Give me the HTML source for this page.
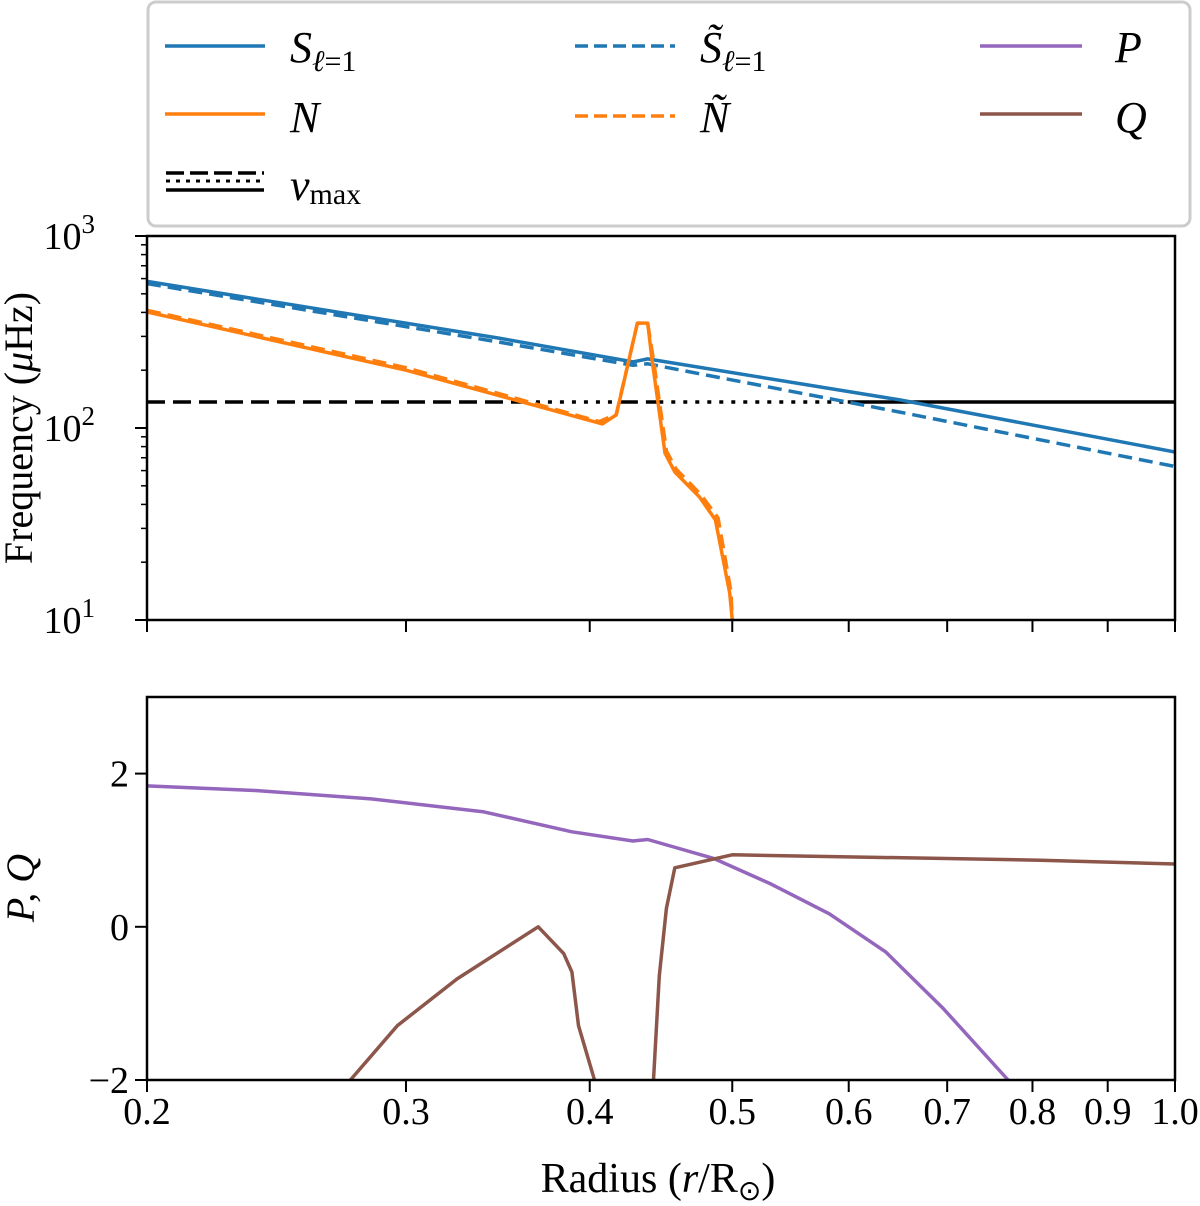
<!DOCTYPE html>
<html><head><meta charset="utf-8"><style>
body{margin:0;background:#fff}
svg{display:block;font-family:"Liberation Serif",serif}
</style></head><body>
<svg id="fig" width="1200" height="1206" xmlns="http://www.w3.org/2000/svg">
<g id="legend">
<rect x="148" y="2" width="1042" height="224" rx="8" fill="#fff" stroke="#ccc" stroke-width="3"/>
<g><line x1="165" y1="46" x2="265" y2="46" stroke="#1f77b4" stroke-width="3.5"/><text x="290" y="62" font-size="44" font-style="italic">S<tspan font-size="30" dy="9">ℓ</tspan><tspan font-size="30" font-style="normal">=1</tspan></text></g>
<g><line x1="165" y1="114" x2="265" y2="114" stroke="#ff7f0e" stroke-width="3.5"/><text x="290" y="132" font-size="44" font-style="italic">N</text></g>
<g><line x1="166" y1="173" x2="264" y2="173" stroke="#000" stroke-width="3.5" stroke-dasharray="18,6"/><line x1="166" y1="181" x2="264" y2="181" stroke="#000" stroke-width="3" stroke-dasharray="4,6"/><line x1="166" y1="190" x2="264" y2="190" stroke="#000" stroke-width="3.5"/><text x="290" y="200" font-size="44" font-style="italic">ν<tspan font-size="30" font-style="normal" dy="4">max</tspan></text></g>
<g><line x1="575" y1="46" x2="675" y2="46" stroke="#1f77b4" stroke-width="3.5" stroke-dasharray="13,6"/><text x="700" y="62" font-size="44" font-style="italic">S̃<tspan font-size="30" dy="9">ℓ</tspan><tspan font-size="30" font-style="normal">=1</tspan></text></g>
<g><line x1="575" y1="116" x2="675" y2="116" stroke="#ff7f0e" stroke-width="3.5" stroke-dasharray="13,6"/><text x="700" y="132" font-size="44" font-style="italic">Ñ</text></g>
<g><line x1="980" y1="46" x2="1082" y2="46" stroke="#9467bd" stroke-width="3.5"/><text x="1115" y="62" font-size="44" font-style="italic">P</text></g>
<g><line x1="980" y1="114" x2="1082" y2="114" stroke="#8c564b" stroke-width="3.5"/><text x="1115" y="132" font-size="44" font-style="italic">Q</text></g>
</g>
<g id="topPanel"></g>
<g id="botPanel"></g>
<text x="32" y="428" font-size="40" text-anchor="middle" transform="rotate(-90 32 428)">Frequency (<tspan font-style="italic">μ</tspan>Hz)</text>
<text x="34" y="888" font-size="40" text-anchor="middle" font-style="italic" transform="rotate(-90 34 888)">P, Q</text>
<text x="658" y="1192" font-size="42" text-anchor="middle">Radius (<tspan font-style="italic">r</tspan>/R<tspan font-size="28" dy="8">⊙</tspan><tspan dy="-8">)</tspan></text>
</svg>
<script>
const xTicks=[0.2,0.3,0.4,0.5,0.6,0.7,0.8,0.9,1.0];
const xTickLabels=["0.2","0.3","0.4","0.5","0.6","0.7","0.8","0.9","1.0"];
const numax=136.5;
const sR=[0.2,0.347,0.428,0.438,0.65,1.0];
const sV=[580,294,221,229,140,75];
const stR=[0.2,0.347,0.428,0.438,0.65,1.0];
const stV=[565,280,212,216,121,63];
const nR=[0.2,0.3,0.408,0.417,0.431,0.438,0.441,0.45,0.457,0.475,0.487,0.498,0.5];
const nV=[402,200,105,117,352,352,226,74,59,43.7,33.2,13.8,10];
const ntR=[0.2,0.3,0.406,0.417,0.431,0.438,0.442,0.451,0.458,0.476,0.489,0.499,0.5];
const ntV=[410,206,108,118,352,350,226,76,61,45,34,14,10];
const pR=[0.2,0.237,0.284,0.339,0.389,0.428,0.438,0.486,0.531,0.582,0.636,0.696,0.77];
const pV=[1.84,1.78,1.67,1.50,1.24,1.12,1.14,0.89,0.56,0.17,-0.33,-1.07,-2];
const q1R=[0.275,0.296,0.325,0.369,0.384,0.389,0.393,0.403];
const q1V=[-2,-1.29,-0.68,0,-0.35,-0.59,-1.29,-2];
const q2R=[0.442,0.446,0.451,0.457,0.5,0.81,1.0];
const q2V=[-2,-0.64,0.24,0.77,0.94,0.87,0.82];
const yTopTicks=[10,100,1000];
const yBotTicks=[-2,0,2];
const yBotLabels=["−2","0","2"];

const NS='http://www.w3.org/2000/svg';
const X0=147,X1=1175;
const xs=r=>X0+(X1-X0)*Math.log(r/0.2)/Math.log(5);
const T0=236,T1=620;
const yt=v=>T1-(T1-T0)*Math.log10(v/10)/2;
const B0=697,B1=1080;
const yb=v=>B1-(B1-B0)*(v+2)/5;
function el(p,tag,a){const e=document.createElementNS(NS,tag);for(const k in a)e.setAttribute(k,a[k]);p.appendChild(e);return e;}
const topG=document.getElementById('topPanel'),botG=document.getElementById('botPanel');
function line(p,R,V,ys,color,dash,name,clip){
  const d=R.map((r,i)=>(i?'L':'M')+xs(r).toFixed(1)+','+ys(V[i]).toFixed(1)).join('');
  const e=el(p,'path',{d:d,fill:'none',stroke:color,'stroke-width':3.5,'stroke-linejoin':'round','clip-path':clip});
  if(dash)e.setAttribute('stroke-dasharray',dash);
  
  
}
const defs=el(document.getElementById('fig'),'defs',{});
const c1=el(defs,'clipPath',{id:'ct'});el(c1,'rect',{x:X0,y:T0,width:X1-X0,height:T1-T0+2});
const c2=el(defs,'clipPath',{id:'cb'});el(c2,'rect',{x:X0,y:B0,width:X1-X0,height:B1-B0+2});
function interp(R,V,r){if(r<=R[0])return V[0];for(let i=1;i<R.length;i++){if(r<=R[i]){const t=Math.log(r/R[i-1])/Math.log(R[i]/R[i-1]);return Math.exp(Math.log(V[i-1])+t*Math.log(V[i]/V[i-1]));}}return V[V.length-1];}
(function(){
  const n=600;let cur=null,start=0.2;const segs=[];
  for(let i=0;i<=n;i++){const r=0.2*Math.pow(5,i/n);
    let st='dot';if(interp(nR,nV,r)>numax)st='dash';else if(interp(stR,stV,r)<numax)st='solid';
    if(st!==cur){if(cur)segs.push([start,r,cur]);cur=st;start=r;}}
  segs.push([start,1.0,cur]);
  const dashes={dash:'18,8',dot:'4,8',solid:''};
  segs.forEach(s=>{const e=el(topG,'line',{x1:xs(s[0]),x2:xs(s[1]),y1:yt(numax),y2:yt(numax),stroke:'#000','stroke-width':3.5});
    if(dashes[s[2]])e.setAttribute('stroke-dasharray',dashes[s[2]]);
    
    });
})();
line(topG,sR,sV,yt,'#1f77b4','','s-l1-line','url(#ct)');
line(topG,stR,stV,yt,'#1f77b4','14,7','s-tilde-line','url(#ct)');
line(topG,nR,nV,yt,'#ff7f0e','','n-line','url(#ct)');
line(topG,ntR,ntV,yt,'#ff7f0e','14,7','n-tilde-line','url(#ct)');
line(botG,pR,pV,yb,'#9467bd','','p-line','url(#cb)');
line(botG,q1R,q1V,yb,'#8c564b','','q-line-left','url(#cb)');
line(botG,q2R,q2V,yb,'#8c564b','','q-line-right','url(#cb)');
[[topG,T0,T1],[botG,B0,B1]].forEach(([p,a,b])=>{const f=el(p,'rect',{x:X0,y:a,width:X1-X0,height:b-a,fill:'none',stroke:'#000','stroke-width':2.5});
  
  });
xTicks.forEach((r,i)=>{
  [T1,B1].forEach(yy=>el(topG,'line',{x1:xs(r),x2:xs(r),y1:yy,y2:yy+12,stroke:'#000','stroke-width':2}));
  const t=el(botG,'text',{x:xs(r),y:B1+44,'font-size':38,'text-anchor':'middle'});t.textContent=xTickLabels[i];
  
  
});
yTopTicks.forEach((v,i)=>{
  el(topG,'line',{x1:X0-12,x2:X0,y1:yt(v),y2:yt(v),stroke:'#000','stroke-width':2});
  const t=el(topG,'text',{x:X0-52,y:yt(v)+13,'font-size':38,'text-anchor':'end'});
  t.innerHTML='10<tspan font-size="27" dy="-16">'+Math.round(Math.log10(v))+'</tspan>';
  
  
  if(i<yTopTicks.length-1)for(let k=2;k<10;k++)el(topG,'line',{x1:X0-6,x2:X0,y1:yt(v*k),y2:yt(v*k),stroke:'#000','stroke-width':1.5});
});
yBotTicks.forEach((v,i)=>{
  el(botG,'line',{x1:X0-12,x2:X0,y1:yb(v),y2:yb(v),stroke:'#000','stroke-width':2});
  const t=el(botG,'text',{x:X0-18,y:yb(v)+13,'font-size':38,'text-anchor':'end'});t.textContent=yBotLabels[i];
  
  
});
</script>
</body></html>
